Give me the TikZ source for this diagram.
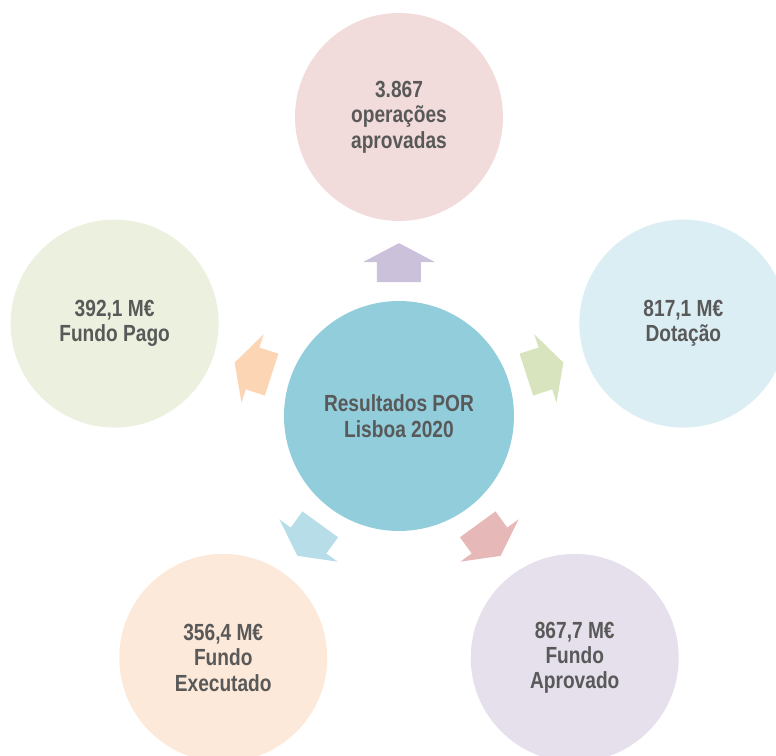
\documentclass[tikz,border=0pt]{standalone}
\usepackage{fontspec}
\setmainfont[FakeStretch=0.82]{Liberation Sans}
\usetikzlibrary{calc}
\definecolor{texto}{HTML}{595959}
\definecolor{azul}{HTML}{92CDDC}
\definecolor{rosa}{HTML}{F2DCDB}
\definecolor{celeste}{HTML}{DBEEF4}
\definecolor{lavanda}{HTML}{E5E0EC}
\definecolor{pessego}{HTML}{FDE9D9}
\definecolor{oliva}{HTML}{EBF1DE}
\definecolor{lilas}{HTML}{CCC1DA}
\definecolor{verde}{HTML}{D7E4BD}
\definecolor{salmao}{HTML}{E6B9B8}
\definecolor{ciano}{HTML}{B7DEE8}
\definecolor{laranja}{HTML}{FCD5B5}
\tikzset{%
    centro/.style = {circle, fill=azul, minimum size=172.5pt, inner sep=0pt,
        align=center, text=texto, font=\bfseries\fontsize{17.5pt}{19pt}\selectfont},
    bolha/.style  = {circle, minimum size=156pt, inner sep=0pt,
        align=center, text=texto, font=\bfseries\fontsize{17.5pt}{19pt}\selectfont},
}

\begin{document}
\begin{tikzpicture}
    \useasboundingbox (-299.25pt,-255pt) rectangle (282.75pt,312pt);
    \clip (-299.25pt,-255pt) rectangle (282.75pt,312pt);
    % We start by placing the circles
    \node [centro] (resultados) {Resultados POR\\Lisboa 2020};
    \node [bolha, fill=rosa] (operacoes) at (90:224.25pt) {3.867\\operações\\aprovadas};
    \node [bolha, fill=celeste] (dotacao) at (18:224.25pt) {817,1 M€\\Dotação};
    \node [bolha, fill=lavanda] (aprovado) at (-54:224.25pt) {867,7 M€\\Fundo\\Aprovado};
    \node [bolha, fill=pessego] (executado) at (-126:224.25pt) {356,4 M€\\Fundo\\Executado};
    \node [bolha, fill=oliva] (pago) at (162:224.25pt) {392,1 M€\\Fundo Pago};

    % Arrows from the centre towards each circle
    \foreach \a/\n/\c in {90/operacoes/lilas, 18/dotacao/verde, -54/aprovado/salmao,
        -126/executado/ciano, 162/pago/laranja}{
        \fill [\c, shift={($(resultados)!.513!(\n)$)}, rotate=\a]
            (-14.6pt,-16.5pt) -- (0.4pt,-16.5pt) -- (0.4pt,-27pt) -- (14.6pt,0pt)
            -- (0.4pt,27pt) -- (0.4pt,16.5pt) -- (-14.6pt,16.5pt) -- cycle;
    }
\end{tikzpicture}
\end{document}
